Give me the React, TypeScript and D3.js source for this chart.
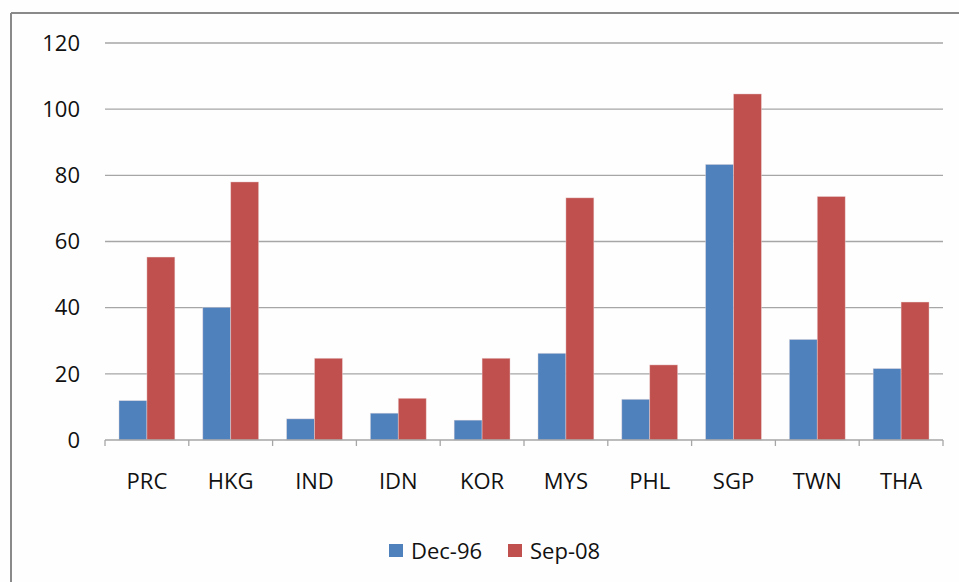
import React from "react";
import * as d3 from "d3";

const categories = ["PRC", "HKG", "IND", "IDN", "KOR", "MYS", "PHL", "SGP", "TWN", "THA"];
const seriesNames = ["Dec-96", "Sep-08"];
const dec96 = [11.9, 40.1, 6.4, 8.1, 6.0, 26.2, 12.3, 83.3, 30.4, 21.6];
const sep08 = [55.3, 78.0, 24.7, 12.6, 24.7, 73.2, 22.7, 104.6, 73.6, 41.7];
const yTicks = [0, 20, 40, 60, 80, 100, 120];
const colors = ["#4F81BD", "#C0504D"];

export default function App() {
  const W = 959, H = 582;
  const left = 105, right = 943, top = 43, bottom = 440;
  const x = d3.scaleBand<string>().domain(categories).range([left, right]).paddingInner(1 / 3).paddingOuter(1 / 6);
  const x1 = d3.scaleBand<string>().domain(seriesNames).range([0, x.bandwidth()]);
  const y = d3.scaleLinear().domain([0, 120]).range([bottom, top]);
  const step = (right - left) / categories.length;
  const data = [dec96, sep08];
  const font = "'Open Sans', sans-serif";
  const fs = 22;
  return (
    <svg width={W} height={H} style={{ position: "absolute", left: 0, top: 0, background: "#fff" }}>
      <rect x={0} y={0} width={W} height={H} fill="#fefefe" />
      <line x1={11} y1={13} x2={W} y2={13} stroke="#8a8a8a" strokeWidth={2} />
      <line x1={11} y1={13} x2={11} y2={H} stroke="#8a8a8a" strokeWidth={2} />
      {yTicks.map((t) => (
        <g key={t}>
          {t > 0 && <line x1={left} x2={right} y1={y(t)} y2={y(t)} stroke="#a6a6a6" strokeWidth={1.3} />}
          <text x={80} y={y(t)} dy="0.35em" textAnchor="end" fontFamily={font} fontSize={fs} fill="#111">{t}</text>
        </g>
      ))}
      {categories.map((c, i) =>
        data.map((s, k) => (
          <rect
            key={c + k}
            x={(x(c) as number) + (x1(seriesNames[k]) as number)}
            y={y(s[i])}
            width={x1.bandwidth()}
            height={bottom - y(s[i])}
            fill={colors[k]}
            stroke="#f0e0e0"
            strokeOpacity={0.5}
            strokeWidth={0.8}
          />
        ))
      )}
      <line x1={left} x2={right} y1={bottom} y2={bottom} stroke="#a6a6a6" strokeWidth={1.3} />
      {d3.range(categories.length + 1).map((i) => (
        <line key={i} x1={left + i * step} x2={left + i * step} y1={bottom} y2={bottom + 6} stroke="#a6a6a6" strokeWidth={1.3} />
      ))}
      {categories.map((c) => (
        <text key={c} x={(x(c) as number) + x.bandwidth() / 2} y={489} textAnchor="middle" fontFamily={font} fontSize={fs} fill="#111">{c}</text>
      ))}
      {seriesNames.map((n, k) => {
        const lx = [389, 508][k];
        return (
          <g key={n}>
            <rect x={lx} y={544} width={14} height={13} fill={colors[k]} />
            <text x={lx + 22} y={551} dy="0.35em" fontFamily={font} fontSize={fs} fill="#111">{n}</text>
          </g>
        );
      })}
    </svg>
  );
}
